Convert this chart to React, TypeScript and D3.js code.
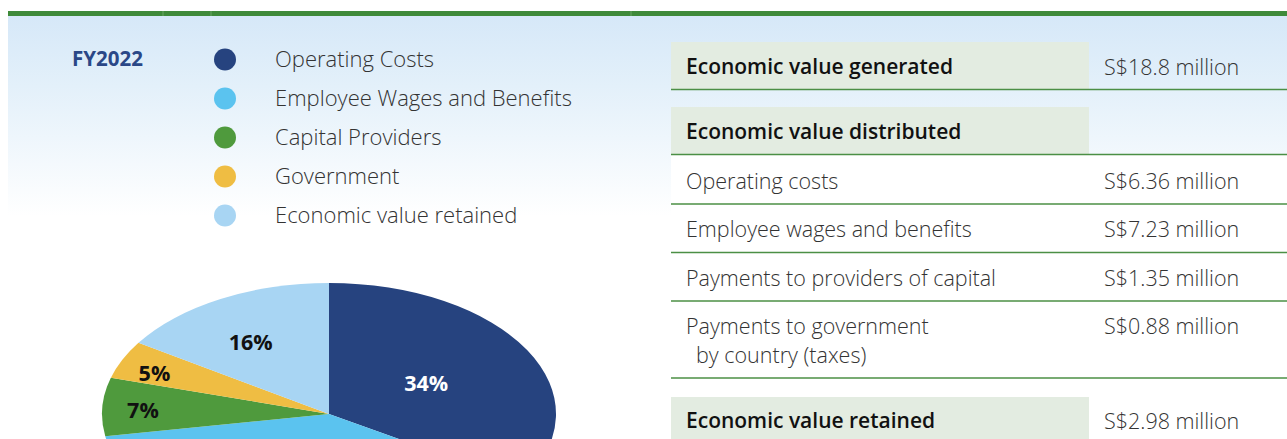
import React from 'react';
import * as d3 from 'd3';

// FY2022 economic value, S$ million
const categories = ['Operating Costs', 'Employee Wages and Benefits', 'Capital Providers', 'Government', 'Economic value retained'];
const millions = [6.36, 7.23, 1.35, 0.88, 2.98];
const pctLabels = ['34%', '38%', '7%', '5%', '16%'];
const sliceColors = ['#26437f', '#5bc3ef', '#4f9a3d', '#efbd43', '#a8d5f3'];

const headerRows = ['Economic value generated', 'Economic value distributed'];
const headerValues = ['S$18.8 million', ''];
const detailRows = ['Operating costs', 'Employee wages and benefits', 'Payments to providers of capital', 'Payments to government'];
const detailValues = ['S$6.36 million', 'S$7.23 million', 'S$1.35 million', 'S$0.88 million'];
const retainedLabel = 'Economic value retained';
const retainedValue = 'S$2.98 million';

const W = 1287, H = 439;
const font = '"Open Sans", "Noto Sans", sans-serif';

export default function App() {
    const cx = 329, cy = 414, rx = 227, ry = 131;
    const pie = d3.pie<number>().sort(null).value(d => d);
    const arcs = pie(millions);
    const arc = d3.arc<d3.PieArcDatum<number>>().innerRadius(0).outerRadius(rx);
    // label placement: fraction of radius and angle nudge (deg), tuned to the source
    const labelR = [0.49, 0.5, 0.82, 0.83, 0.65];
    const labelNudge = [0, 0, -1.3, -2.4, -3.5];
    const labelFill = ['#ffffff', '#111', '#111', '#111', '#111'];

    const legendY = d3.scaleBand<string>().domain(categories).range([40, 235]);

    const tableX = 671, cellW = 418, valX = 1104;
    const light = {fontFamily: font, fontWeight: 300, fontSize: 21.5, fill: '#333'};
    const bold = {fontFamily: font, fontWeight: 600, fontSize: 21, fill: '#111'};

    return (
        <svg width={W} height={H} style={{position: 'fixed', left: 0, top: 0, background: '#fff'}}>
            <defs>
                <linearGradient id="bg" x1="0" y1="0" x2="0" y2="1">
                    <stop offset="0" stopColor="#d6e8f8"/>
                    <stop offset="0.35" stopColor="#e3f0fa"/>
                    <stop offset="1" stopColor="#ffffff"/>
                </linearGradient>
            </defs>
            <rect x={8} y={16} width={W - 8} height={200} fill="url(#bg)"/>
            <rect x={8} y={11} width={W - 8} height={5} fill="#3f8a3a"/>
            {[163, 211, 631].map(x => <line key={x} x1={x} x2={x} y1={11} y2={16} stroke="#6aa565" strokeWidth={1}/>)}

            {/* legend */}
            <text x={72} y={59} dy="0.35em" fontFamily={font} fontWeight={700} fontSize={20.5} fill="#2a4787">FY2022</text>
            {categories.map((c, i) => {
                const y = legendY(c)! + legendY.bandwidth() / 2;
                return (
                    <g key={c}>
                        <circle cx={225} cy={y} r={11} fill={sliceColors[i]}/>
                        <text x={275} y={y} dy="0.33em" {...light} fontSize={22}>{c}</text>
                    </g>
                );
            })}

            {/* pie, squashed to an ellipse */}
            <g transform={`translate(${cx},${cy}) scale(1,${ry / rx})`}>
                {arcs.map((a, i) => <path key={i} d={arc(a)!} fill={sliceColors[i]}/>)}
            </g>
            {arcs.map((a, i) => {
                const mid = (a.startAngle + a.endAngle) / 2 + labelNudge[i] * Math.PI / 180;
                const r = rx * labelR[i];
                const x = cx + Math.sin(mid) * r;
                const y = cy - Math.cos(mid) * r * ry / rx;
                if (y > H - 10) return null;
                return <text key={i} x={x} y={y} dy="0.36em" textAnchor="middle" fontFamily={font} fontWeight={700}
                             fontSize={21.5} fill={labelFill[i]}>{pctLabels[i]}</text>;
            })}

            {/* table */}
            <rect x={tableX} y={155} width={W - tableX} height={223} fill="#fff"/>
            {headerRows.map((h, i) => {
                const top = 42 + i * 65;
                return (
                    <g key={h}>
                        <rect x={tableX} y={top} width={cellW} height={47} fill="#e3ece1"/>
                        <line x1={tableX} x2={W} y1={top + 47.5} y2={top + 47.5} stroke="#4b8f45" strokeWidth={1.5}/>
                        <text x={686} y={top + 25} dy="0.35em" {...bold}>{h}</text>
                        <text x={valX} y={top + 25} dy="0.35em" {...light}>{headerValues[i]}</text>
                    </g>
                );
            })}
            {detailRows.map((d, i) => {
                const y = 181 + i * 48.5;
                const bottom = i === detailRows.length - 1 ? 378 : 204 + i * 48.5;
                return (
                    <g key={d}>
                        <text x={686} y={y} dy="0.35em" {...light}>{d}</text>
                        {i === detailRows.length - 1 &&
                            <text x={696} y={y + 29} dy="0.35em" {...light}>by country (taxes)</text>}
                        <text x={valX} y={y} dy="0.35em" {...light}>{detailValues[i]}</text>
                        <line x1={tableX} x2={W} y1={bottom} y2={bottom} stroke="#4b8f45" strokeWidth={1.5}/>
                    </g>
                );
            })}
            <rect x={tableX} y={397} width={cellW} height={50} fill="#e3ece1"/>
            <text x={686} y={421} dy="0.35em" {...bold}>{retainedLabel}</text>
            <text x={valX} y={421} dy="0.35em" {...light}>{retainedValue}</text>
        </svg>
    );
}
